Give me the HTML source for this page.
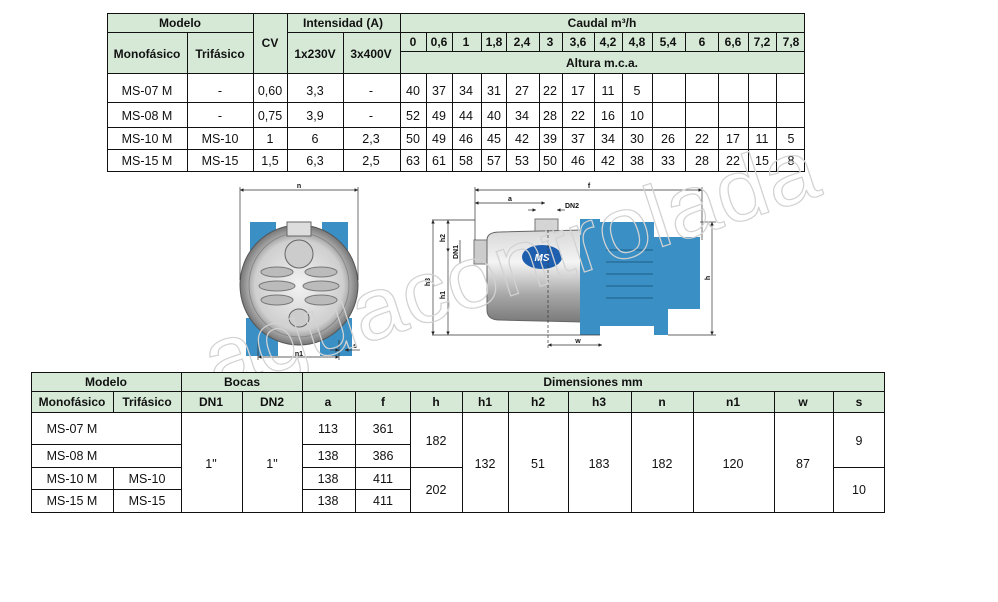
<!DOCTYPE html>
<html><head><meta charset="utf-8"><style>
html,body{margin:0;padding:0;background:#fff;}
svg{display:block;}
text{font-family:"Liberation Sans",Arial,sans-serif;font-size:12.5px;fill:#111;text-anchor:middle;}
.b{font-weight:bold;font-size:12px;}
.s{font-size:7px;font-weight:bold;}
</style></head><body>
<svg width="998" height="602" viewBox="0 0 998 602" xmlns="http://www.w3.org/2000/svg">
<defs>
<linearGradient id="st" x1="0" y1="0" x2="0" y2="1"><stop offset="0" stop-color="#d8d8d8"/><stop offset=".35" stop-color="#f4f4f4"/><stop offset=".7" stop-color="#a8a8a8"/><stop offset="1" stop-color="#7a7a7a"/></linearGradient>
<radialGradient id="fr"><stop offset="0" stop-color="#f2f2f2"/><stop offset=".75" stop-color="#cfcfcf"/><stop offset="1" stop-color="#777"/></radialGradient>
<marker id="ar" viewBox="0 0 6 6" refX="6" refY="3" markerWidth="5" markerHeight="5" orient="auto-start-reverse"><path d="M0,0L6,3L0,6z" fill="#222"/></marker>
</defs>

<!-- TOP TABLE -->
<rect x="107" y="13" width="698" height="60" fill="#d6e9d6"/>
<g stroke="#111" stroke-width="1" fill="none">
<rect x="107.5" y="13.5" width="697" height="158"/>
<line x1="107" y1="32.5" x2="253" y2="32.5"/><line x1="287" y1="32.5" x2="805" y2="32.5"/>
<line x1="400" y1="51.5" x2="805" y2="51.5"/>
<line x1="107" y1="73.5" x2="805" y2="73.5"/>
<line x1="107" y1="102.5" x2="805" y2="102.5"/>
<line x1="107" y1="127.5" x2="805" y2="127.5"/>
<line x1="107" y1="149.5" x2="805" y2="149.5"/>
<line x1="187.5" y1="32" x2="187.5" y2="172"/>
<line x1="253.5" y1="13" x2="253.5" y2="172"/>
<line x1="287.5" y1="13" x2="287.5" y2="172"/>
<line x1="343.5" y1="32" x2="343.5" y2="172"/>
<line x1="400.5" y1="13" x2="400.5" y2="172"/>
</g>
<g stroke="#111" stroke-width="1">
<path d="M426.5 32V51M452.5 32V51M481.5 32V51M506.5 32V51M539.5 32V51M562.5 32V51M594.5 32V51M622.5 32V51M652.5 32V51M685.5 32V51M718.5 32V51M748.5 32V51M776.5 32V51"/>
<path d="M426.5 73V172M452.5 73V172M481.5 73V172M506.5 73V172M539.5 73V172M562.5 73V172M594.5 73V172M622.5 73V172M652.5 73V172M685.5 73V172M718.5 73V172M748.5 73V172M776.5 73V172"/>
</g>
<g class="b">
<text class="b" x="180" y="27">Modelo</text>
<text class="b" x="147" y="58">Monofásico</text>
<text class="b" x="220" y="58">Trifásico</text>
<text class="b" x="270" y="47">CV</text>
<text class="b" x="343" y="27">Intensidad (A)</text>
<text class="b" x="315" y="58">1x230V</text>
<text class="b" x="371" y="58">3x400V</text>
<text class="b" x="602" y="27">Caudal m³/h</text>
<text class="b" x="602" y="67">Altura m.c.a.</text>
<text class="b" x="413" y="46">0</text><text class="b" x="439" y="46">0,6</text><text class="b" x="466" y="46">1</text><text class="b" x="494" y="46">1,8</text><text class="b" x="522" y="46">2,4</text><text class="b" x="550" y="46">3</text><text class="b" x="578" y="46">3,6</text><text class="b" x="608" y="46">4,2</text><text class="b" x="637" y="46">4,8</text><text class="b" x="668" y="46">5,4</text><text class="b" x="702" y="46">6</text><text class="b" x="733" y="46">6,6</text><text class="b" x="762" y="46">7,2</text><text class="b" x="791" y="46">7,8</text>
</g>
<g>
<text x="147" y="95">MS-07 M</text><text x="220" y="95">-</text><text x="270" y="95">0,60</text><text x="315" y="95">3,3</text><text x="371" y="95">-</text>
<text x="413" y="95">40</text><text x="439" y="95">37</text><text x="466" y="95">34</text><text x="494" y="95">31</text><text x="522" y="95">27</text><text x="550" y="95">22</text><text x="578" y="95">17</text><text x="608" y="95">11</text><text x="637" y="95">5</text>
<text x="147" y="120">MS-08 M</text><text x="220" y="120">-</text><text x="270" y="120">0,75</text><text x="315" y="120">3,9</text><text x="371" y="120">-</text>
<text x="413" y="120">52</text><text x="439" y="120">49</text><text x="466" y="120">44</text><text x="494" y="120">40</text><text x="522" y="120">34</text><text x="550" y="120">28</text><text x="578" y="120">22</text><text x="608" y="120">16</text><text x="637" y="120">10</text>
<text x="147" y="143">MS-10 M</text><text x="220" y="143">MS-10</text><text x="270" y="143">1</text><text x="315" y="143">6</text><text x="371" y="143">2,3</text>
<text x="413" y="143">50</text><text x="439" y="143">49</text><text x="466" y="143">46</text><text x="494" y="143">45</text><text x="522" y="143">42</text><text x="550" y="143">39</text><text x="578" y="143">37</text><text x="608" y="143">34</text><text x="637" y="143">30</text><text x="668" y="143">26</text><text x="702" y="143">22</text><text x="733" y="143">17</text><text x="762" y="143">11</text><text x="791" y="143">5</text>
<text x="147" y="165">MS-15 M</text><text x="220" y="165">MS-15</text><text x="270" y="165">1,5</text><text x="315" y="165">6,3</text><text x="371" y="165">2,5</text>
<text x="413" y="165">63</text><text x="439" y="165">61</text><text x="466" y="165">58</text><text x="494" y="165">57</text><text x="522" y="165">53</text><text x="550" y="165">50</text><text x="578" y="165">46</text><text x="608" y="165">42</text><text x="637" y="165">38</text><text x="668" y="165">33</text><text x="702" y="165">28</text><text x="733" y="165">22</text><text x="762" y="165">15</text><text x="791" y="165">8</text>
</g>

<!-- FRONT VIEW -->
<g>
<rect x="250" y="222" width="26" height="30" fill="#3a8fc4"/><rect x="322" y="222" width="26" height="30" fill="#3a8fc4"/>
<rect x="246" y="318" width="32" height="38" fill="#3a8fc4"/><rect x="320" y="318" width="32" height="38" fill="#3a8fc4"/>
<ellipse cx="299" cy="285" rx="59" ry="60" fill="url(#fr)" stroke="#555"/>
<ellipse cx="299" cy="285" rx="50" ry="52" fill="none" stroke="#888"/>
<rect x="287" y="222" width="24" height="14" fill="#ddd" stroke="#666"/>
<ellipse cx="299" cy="254" rx="14" ry="14" fill="#ccc" stroke="#666"/>
<ellipse cx="299" cy="318" rx="10" ry="9" fill="#ccc" stroke="#666"/>
<g fill="#bbb" stroke="#777">
<ellipse cx="277" cy="272" rx="16" ry="5"/><ellipse cx="277" cy="286" rx="18" ry="5"/><ellipse cx="277" cy="300" rx="16" ry="5"/>
<ellipse cx="321" cy="272" rx="16" ry="5"/><ellipse cx="321" cy="286" rx="18" ry="5"/><ellipse cx="321" cy="300" rx="16" ry="5"/>
</g>
</g>
<g stroke="#333" stroke-width=".7" fill="none">
<line x1="240" y1="190" x2="358" y2="190" marker-start="url(#ar)" marker-end="url(#ar)"/>
<line x1="240" y1="187" x2="240" y2="280"/><line x1="358" y1="187" x2="358" y2="280"/>
<line x1="258" y1="357" x2="339" y2="357" marker-start="url(#ar)" marker-end="url(#ar)"/>
<line x1="258" y1="340" x2="258" y2="360"/><line x1="339" y1="340" x2="339" y2="360"/>
<line x1="330" y1="350" x2="339" y2="350" marker-end="url(#ar)"/><line x1="360" y1="350" x2="345" y2="350" marker-end="url(#ar)"/>
</g>
<text class="s" x="299" y="188">n</text><text class="s" x="299" y="356">n1</text><text class="s" x="355" y="348">s</text>

<!-- SIDE VIEW -->
<g>
<rect x="474" y="240" width="14" height="24" fill="#ccc" stroke="#777"/>
<rect x="535" y="219" width="23" height="16" fill="#d5d5d5" stroke="#777"/>
<path d="M487 240 Q487 232 500 232 L583 230 L583 322 L500 320 Q487 320 487 310Z" fill="url(#st)" stroke="#666"/>
<rect x="580" y="219" width="20" height="116" fill="#3a8fc4"/>
<rect x="600" y="222" width="54" height="104" fill="#3a8fc4"/>
<rect x="653" y="237" width="47" height="72" fill="#3a8fc4"/>
<rect x="654" y="300" width="14" height="35" fill="#3a8fc4"/>
<g stroke="#1f5f88" stroke-width="1"><path d="M606 250H653M606 262H653M606 274H653M606 286H653M606 298H653"/></g>
<ellipse cx="542" cy="257" rx="20" ry="12" fill="#1d5fae"/>
<text x="542" y="261" style="font-size:10px;font-weight:bold;font-style:italic;fill:#fff">MS</text>
</g>
<g stroke="#333" stroke-width=".7" fill="none">
<line x1="475" y1="190" x2="702" y2="190" marker-start="url(#ar)" marker-end="url(#ar)"/>
<line x1="475" y1="187" x2="475" y2="240"/><line x1="702" y1="187" x2="702" y2="240"/>
<line x1="475" y1="203" x2="545" y2="203" marker-start="url(#ar)" marker-end="url(#ar)"/>
<line x1="528" y1="210" x2="536" y2="210" marker-end="url(#ar)"/><line x1="565" y1="210" x2="557" y2="210" marker-end="url(#ar)"/>
<line x1="432" y1="220" x2="475" y2="220"/><line x1="432" y1="335" x2="600" y2="335"/>
<line x1="433" y1="220" x2="433" y2="335" marker-start="url(#ar)" marker-end="url(#ar)"/>
<line x1="448" y1="220" x2="448" y2="252" marker-start="url(#ar)" marker-end="url(#ar)"/>
<line x1="448" y1="252" x2="448" y2="335" marker-end="url(#ar)"/>
<line x1="460" y1="240" x2="460" y2="264"/>
<line x1="712" y1="222" x2="712" y2="335" marker-start="url(#ar)" marker-end="url(#ar)"/>
<line x1="700" y1="222" x2="716" y2="222"/><line x1="668" y1="335" x2="716" y2="335"/>
<line x1="548" y1="345" x2="602" y2="345" marker-start="url(#ar)" marker-end="url(#ar)"/>
<line x1="548" y1="230" x2="548" y2="350" stroke-dasharray="3,2"/>
</g>
<text class="s" x="589" y="188">f</text><text class="s" x="510" y="201">a</text><text class="s" x="572" y="208">DN2</text>
<text class="s" x="578" y="343">w</text>
<text class="s" x="430" y="282" transform="rotate(-90 430 282)">h3</text>
<text class="s" x="445" y="238" transform="rotate(-90 445 238)">h2</text>
<text class="s" x="445" y="295" transform="rotate(-90 445 295)">h1</text>
<text class="s" x="458" y="252" transform="rotate(-90 458 252)">DN1</text>
<text class="s" x="710" y="278" transform="rotate(-90 710 278)">h</text>

<!-- watermark -->
<text x="215" y="392" transform="rotate(-18 215 392)" textLength="640" lengthAdjust="spacingAndGlyphs" style="text-anchor:start;font-size:88px;fill:none;stroke:#d2d2d2;stroke-width:1.2">aguacontrolada</text>

<!-- BOTTOM TABLE -->
<rect x="31" y="372" width="854" height="40" fill="#d6e9d6"/>
<g stroke="#111" stroke-width="1" fill="none">
<line x1="31" y1="372.5" x2="885" y2="372.5"/>
<line x1="31" y1="391.5" x2="885" y2="391.5"/>
<line x1="31" y1="412.5" x2="885" y2="412.5"/>
<line x1="31" y1="512.5" x2="885" y2="512.5"/>
<line x1="31.5" y1="372" x2="31.5" y2="512"/><line x1="884.5" y1="372" x2="884.5" y2="512"/>
<line x1="113.5" y1="391" x2="113.5" y2="412"/><line x1="113.5" y1="467" x2="113.5" y2="512"/>
<line x1="181.5" y1="372" x2="181.5" y2="512"/>
<line x1="242.5" y1="391" x2="242.5" y2="512"/>
<line x1="302.5" y1="372" x2="302.5" y2="512"/>
<path d="M355.5 391V512M410.5 391V512M462.5 391V512M508.5 391V512M568.5 391V512M631.5 391V512M693.5 391V512M774.5 391V512M833.5 391V512"/>
<line x1="31" y1="444.5" x2="181" y2="444.5"/><line x1="302" y1="444.5" x2="410" y2="444.5"/>
<line x1="31" y1="467.5" x2="181" y2="467.5"/><line x1="302" y1="467.5" x2="462" y2="467.5"/><line x1="833" y1="467.5" x2="885" y2="467.5"/>
<line x1="31" y1="489.5" x2="181" y2="489.5"/><line x1="302" y1="489.5" x2="410" y2="489.5"/>
</g>
<text class="b" x="106" y="386">Modelo</text>
<text class="b" x="242" y="386">Bocas</text>
<text class="b" x="593" y="386">Dimensiones mm</text>
<text class="b" x="72" y="406">Monofásico</text><text class="b" x="147" y="406">Trifásico</text>
<text class="b" x="211" y="406">DN1</text><text class="b" x="272" y="406">DN2</text>
<text class="b" x="328" y="406">a</text><text class="b" x="383" y="406">f</text><text class="b" x="436" y="406">h</text>
<text class="b" x="485" y="406">h1</text><text class="b" x="538" y="406">h2</text><text class="b" x="599" y="406">h3</text>
<text class="b" x="662" y="406">n</text><text class="b" x="733" y="406">n1</text><text class="b" x="803" y="406">w</text><text class="b" x="859" y="406">s</text>
<text x="72" y="433">MS-07 M</text><text x="72" y="460">MS-08 M</text><text x="72" y="483">MS-10 M</text><text x="72" y="505">MS-15 M</text>
<text x="147" y="483">MS-10</text><text x="147" y="505">MS-15</text>
<text x="211" y="468">1"</text><text x="272" y="468">1"</text>
<text x="328" y="433">113</text><text x="383" y="433">361</text>
<text x="328" y="460">138</text><text x="383" y="460">386</text>
<text x="328" y="483">138</text><text x="383" y="483">411</text>
<text x="328" y="505">138</text><text x="383" y="505">411</text>
<text x="436" y="445">182</text><text x="436" y="494">202</text>
<text x="485" y="468">132</text><text x="538" y="468">51</text><text x="599" y="468">183</text>
<text x="662" y="468">182</text><text x="733" y="468">120</text><text x="803" y="468">87</text>
<text x="859" y="445">9</text><text x="859" y="494">10</text>
</svg>
</body></html>
